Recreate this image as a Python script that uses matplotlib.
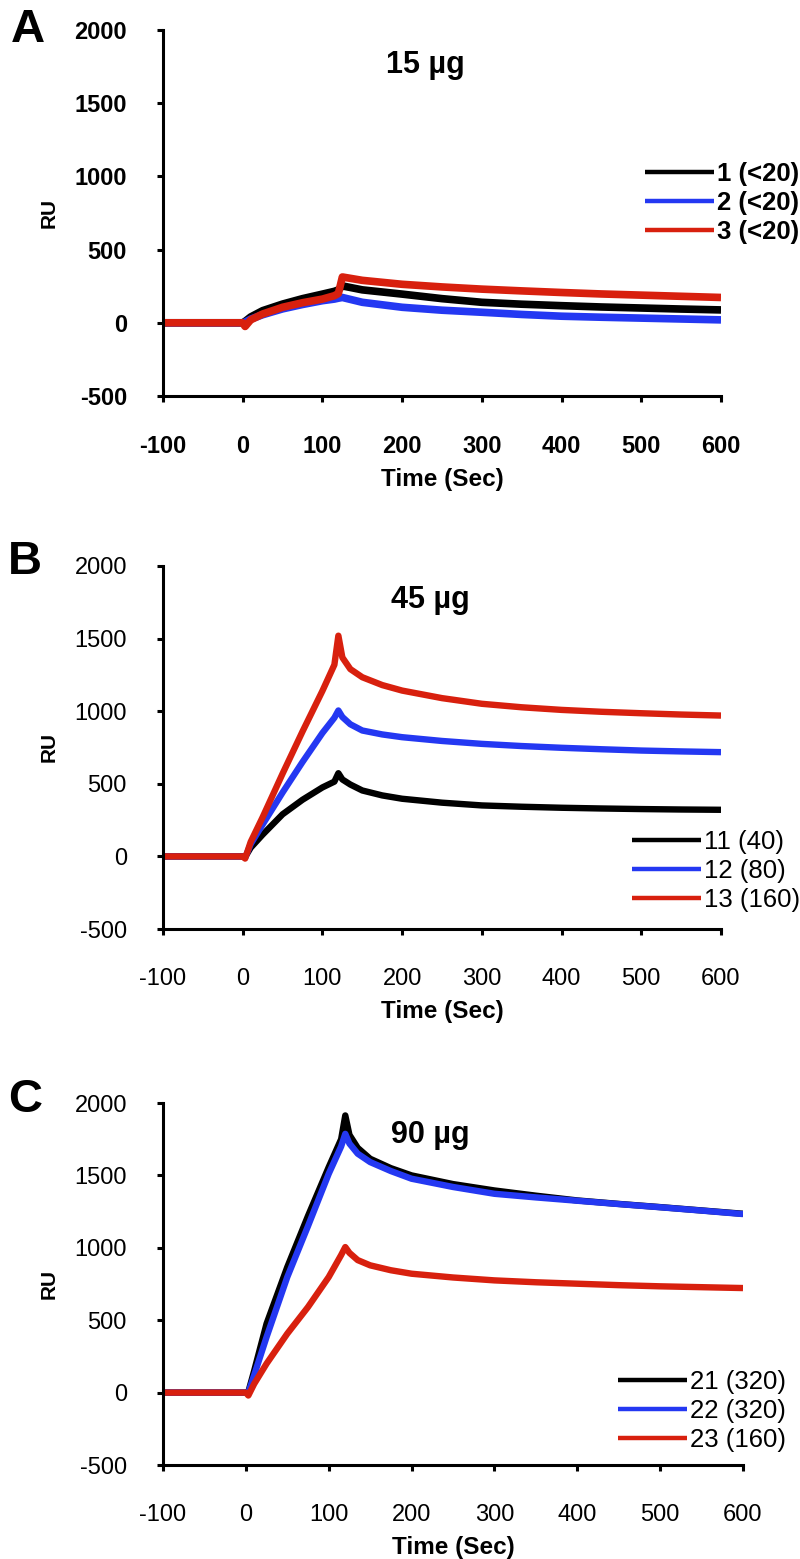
import matplotlib
matplotlib.use("Agg")
import matplotlib.pyplot as plt

plt.rcParams['font.family'] = ['Liberation Sans', 'DejaVu Sans']
plt.rcParams['axes.unicode_minus'] = False

# ---- data (time in s, response in RU) ----
t_a = [-100, 0, 3, 10, 25, 50, 75, 100, 115, 120, 125, 150, 200, 250, 300, 350, 400, 450, 500, 550, 600]
ru_1 = [0, 0, 10, 40, 83, 128, 165, 196, 215, 225, 252, 225, 196, 165, 140, 127, 117, 108, 101, 94, 88]
ru_2 = [0, 0, 5, 25, 55, 95, 125, 151, 162, 168, 173, 140, 106, 86, 72, 57, 45, 38, 32, 26, 20]
ru_3 = [0, 0, -25, 20, 60, 106, 137, 162, 185, 200, 313, 290, 263, 245, 230, 218, 207, 197, 189, 181, 173]
labels_a = ['1 (<20)', '2 (<20)', '3 (<20)']

t_bc = [-100, 0, 3, 10, 25, 50, 75, 100, 115, 120, 125, 135, 150, 175, 200, 250, 300, 350, 400, 450, 500, 550, 600]
ru_11 = [0, 0, -5, 60, 150, 290, 390, 475, 515, 573, 530, 495, 454, 420, 397, 370, 351, 342, 335, 330, 326, 323, 321]
ru_12 = [0, 0, -10, 85, 220, 440, 650, 850, 955, 1005, 960, 910, 867, 840, 821, 795, 775, 760, 748, 738, 729, 723, 718]
ru_13 = [0, 0, -15, 100, 270, 570, 860, 1140, 1320, 1520, 1370, 1290, 1234, 1180, 1142, 1090, 1051, 1027, 1009, 996, 986, 977, 970]
labels_b = ['11 (40)', '12 (80)', '13 (160)']

ru_21 = [0, 0, 5, 150, 476, 867, 1220, 1557, 1750, 1914, 1780, 1690, 1615, 1550, 1500, 1440, 1396, 1360, 1327, 1303, 1281, 1258, 1235]
ru_22 = [0, 0, 0, 120, 384, 798, 1150, 1511, 1700, 1787, 1720, 1650, 1592, 1530, 1477, 1420, 1373, 1348, 1325, 1302, 1280, 1257, 1233]
ru_23 = [0, 0, -20, 60, 200, 407, 591, 798, 950, 1005, 965, 915, 879, 845, 821, 795, 775, 762, 752, 742, 734, 728, 722]
labels_c = ['21 (320)', '22 (320)', '23 (160)']

x_ticks = [-100, 0, 100, 200, 300, 400, 500, 600]
y_ticks = [-500, 0, 500, 1000, 1500, 2000]
COLORS = ['black', '#2438f2', '#d8200e']

W, H = 800, 1559
fig = plt.figure(figsize=(W / 100, H / 100), dpi=100)


def px_box(x0, x1, ytop, ybot):
    return [x0 / W, 1 - ybot / H, (x1 - x0) / W, (ybot - ytop) / H]


def draw_panel(box, t, series, labels, title, letter, tick_weight, lw,
               title_xy, letter_xy, leg_xy):
    ax = fig.add_axes(box)
    for ys, c, lab in zip(series, COLORS, labels):
        ax.plot(t, ys, color=c, lw=lw, label=lab, solid_capstyle='butt')
    ax.set_xlim(-100, 600)
    ax.set_ylim(-500, 2000)
    ax.set_xticks(x_ticks)
    ax.set_yticks(y_ticks)
    for s in ['top', 'right']:
        ax.spines[s].set_visible(False)
    for s in ['left', 'bottom']:
        ax.spines[s].set_linewidth(2.2)
    ax.tick_params(axis='both', direction='out', length=4, width=2.2,
                   labelsize=17)
    ax.tick_params(axis='x', pad=24)
    ax.tick_params(axis='y', pad=22)
    for lbl in ax.get_xticklabels() + ax.get_yticklabels():
        lbl.set_fontweight(tick_weight)
    ax.set_xlabel('Time (Sec)', fontsize=17.5, fontweight='bold', labelpad=7)
    ax.set_ylabel('RU', fontsize=15, fontweight='bold', labelpad=11)
    fig.text(title_xy[0] / W, 1 - title_xy[1] / H, title, fontsize=22,
             fontweight='bold', ha='center', va='center')
    fig.text(letter_xy[0] / W, 1 - letter_xy[1] / H, letter, fontsize=34,
             fontweight='bold', ha='center', va='center')
    leg = ax.legend(loc='upper left', bbox_to_anchor=(leg_xy[0] / W, 1 - leg_xy[1] / H),
                    bbox_transform=fig.transFigure, frameon=False,
                    prop={'size': 18.5, 'weight': tick_weight},
                    handlelength=2.7, handletextpad=0.1, labelspacing=0.2,
                    borderpad=0, borderaxespad=0)
    for line in leg.get_lines():
        line.set_linewidth(3.2)
    return ax


draw_panel(px_box(163, 721, 30, 396), t_a, [ru_1, ru_2, ru_3], labels_a,
           '15 µg', 'A', 'bold', 5.5, (425, 65), (28, 30), (645, 162))
draw_panel(px_box(163, 721, 566, 929), t_bc, [ru_11, ru_12, ru_13], labels_b,
           '45 µg', 'B', 'normal', 4.6, (430, 600), (25, 562), (632, 830))
draw_panel(px_box(163, 743, 1103, 1465), t_bc, [ru_21, ru_22, ru_23], labels_c,
           '90 µg', 'C', 'normal', 4.6, (430, 1135), (25, 1100), (618, 1370))

fig.savefig('out.png', dpi=100)
